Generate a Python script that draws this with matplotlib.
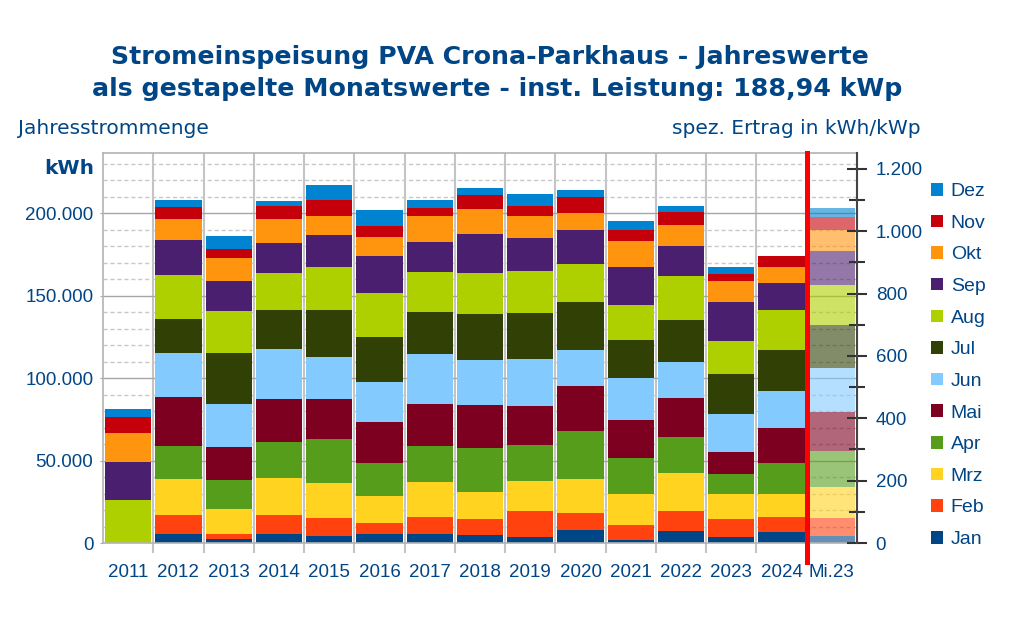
import matplotlib
matplotlib.use("Agg")
import matplotlib.pyplot as plt
from matplotlib.ticker import FuncFormatter, MultipleLocator
import numpy as np

plt.rcParams['font.family'] = ['Liberation Sans', 'DejaVu Sans']

# Kategorien (Jahre + Mittelwert)
jahre = ['2011', '2012', '2013', '2014', '2015', '2016', '2017', '2018',
         '2019', '2020', '2021', '2022', '2023', '2024', 'Mi.23']

# Monatswerte in kWh
jan = [0, 5500, 2400, 5600, 4000, 5200, 5200, 4600, 3400, 7700, 1600, 7300, 3600, 6400, 4400]
feb = [0, 11700, 3000, 11100, 11300, 7100, 10700, 9900, 15800, 10700, 9500, 11900, 11100, 9100, 10500]
mrz = [0, 21600, 15200, 22800, 21200, 16200, 20800, 16400, 18600, 20400, 18400, 23000, 15000, 14300, 19200]
apr = [0, 19800, 17300, 22000, 26700, 20200, 21800, 26400, 21400, 29300, 22000, 21800, 12100, 18400, 21800]
mai = [0, 30100, 20400, 25900, 24200, 24800, 25900, 26300, 23900, 26900, 22800, 23900, 13500, 21800, 23800]
jun = [0, 26200, 25900, 30100, 25300, 24200, 30300, 27300, 28500, 22000, 25500, 22000, 22600, 22400, 26100]
jul = [0, 21000, 31100, 23800, 28500, 27300, 25200, 28100, 28100, 29300, 23400, 25100, 24800, 24500, 26100]
aug = [26100, 26700, 25500, 22600, 26100, 26700, 24200, 24800, 25200, 23000, 20800, 26900, 20000, 24600, 24500]
sep = [22800, 21200, 18000, 18200, 19200, 22000, 18400, 23200, 20200, 20600, 23000, 18000, 23300, 16000, 20400]
okt = [17600, 12800, 13700, 14100, 11900, 11900, 15600, 15600, 13000, 10300, 16200, 13100, 12900, 9700, 13100]
nov = [10100, 6800, 5500, 8300, 9500, 6700, 4800, 8300, 6200, 9700, 6300, 7500, 4200, 6500, 7500]
dez = [4500, 4600, 7900, 3000, 9100, 9300, 4800, 4400, 7300, 4100, 5700, 4000, 4000, 0, 5500]

monate = ['Jan', 'Feb', 'Mrz', 'Apr', 'Mai', 'Jun', 'Jul', 'Aug', 'Sep', 'Okt', 'Nov', 'Dez']
werte = [jan, feb, mrz, apr, mai, jun, jul, aug, sep, okt, nov, dez]
farben = ['#004586', '#ff420e', '#ffd320', '#579d1c', '#7e0021', '#83caff',
          '#314004', '#aecf00', '#4b1f6f', '#ff950e', '#c5000b', '#0084d1']

kwp = 188.94
ymax = 236400
textfarbe = '#004586'

fig = plt.figure(figsize=(10.16, 6.2), dpi=100)
ax = fig.add_axes([103/1016, 1-543/620, (857-103)/1016, (543-153)/620])

x = np.arange(len(jahre))
unten = np.zeros(len(jahre))
handles = []
for name, v, c in zip(monate, werte, farben):
    v = np.array(v, dtype=float)
    h = ax.bar(x[:-1], v[:-1], 0.92, bottom=unten[:-1], color=c, label=name, zorder=2)
    ax.bar(x[-1], v[-1], 0.92, bottom=unten[-1], color=c, alpha=0.6, zorder=2)
    handles.append(h)
    unten += v

ax.set_xlim(-0.5, len(jahre) - 0.5)
ax.set_ylim(0, ymax)
ax.set_axisbelow(True)

# y-Achse links
ax.yaxis.set_major_locator(MultipleLocator(50000))
ax.yaxis.set_minor_locator(MultipleLocator(10000))
ax.yaxis.set_major_formatter(FuncFormatter(lambda v, p: f"{v:,.0f}".replace(",", ".")))
ax.grid(True, axis='y', which='major', color='#a6a6a6', lw=1)
ax.grid(True, axis='y', which='minor', color='#c8c8c8', lw=1, linestyle=(0, (3, 2)))
ax.tick_params(axis='y', which='major', length=2, color='#a6a6a6', pad=5,
               labelsize=13.5, labelcolor=textfarbe)
ax.tick_params(axis='y', which='minor', length=0)

# x-Achse
ax.set_xticks(x)
ax.set_xticklabels(jahre)
ax.set_xticks(x[:-1] + 0.5, minor=True)
ax.grid(True, axis='x', which='minor', color='#c4c4c4', lw=1.5)
ax.tick_params(axis='x', which='major', length=0, pad=15, labelsize=13.5, labelcolor=textfarbe)
ax.tick_params(axis='x', which='minor', length=7, width=1.5, color='#c4c4c4')

for s in ['left', 'top', 'bottom']:
    ax.spines[s].set_color('#b3b3b3')
    ax.spines[s].set_linewidth(1.2)
ax.spines['right'].set_visible(False)

# y-Achse rechts: spezifischer Ertrag
ax2 = ax.twinx()
ax2.set_ylim(0, ymax / kwp)
ax2.yaxis.set_major_locator(MultipleLocator(200))
ax2.yaxis.set_minor_locator(MultipleLocator(100))
ax2.yaxis.set_major_formatter(FuncFormatter(lambda v, p: f"{v:,.0f}".replace(",", ".")))
ax2.tick_params(axis='y', which='major', direction='inout', length=15, width=1.5,
                color='#333333', pad=6, labelsize=13.5, labelcolor=textfarbe)
ax2.tick_params(axis='y', which='minor', direction='inout', length=11, width=1.5, color='#333333')
for s in ['left', 'top', 'bottom']:
    ax2.spines[s].set_visible(False)
ax2.spines['right'].set_color('#444444')
ax2.spines['right'].set_linewidth(1.5)

# rote Trennlinie vor dem Mittelwert
ax.axvline(len(jahre) - 1.5, ymin=-0.048, ymax=1, color='red', lw=3.6, clip_on=False, zorder=5)

leg = ax.legend(handles[::-1], monate[::-1], loc='upper left',
                bbox_to_anchor=(931/1016, 1-183/620), bbox_transform=fig.transFigure,
                frameon=False, fontsize=14, handlelength=0.62, handleheight=0.62,
                handletextpad=0.4, labelspacing=0.745, borderaxespad=0, borderpad=0)
for t in leg.get_texts():
    t.set_color(textfarbe)

fig.text(490/1016, 1-57/620, 'Stromeinspeisung PVA Crona-Parkhaus - Jahreswerte',
         ha='center', va='center', fontsize=18.2, fontweight='bold', color=textfarbe,
         family='DejaVu Sans')
fig.text(497/1016, 1-89/620, 'als gestapelte Monatswerte - inst. Leistung: 188,94 kWp',
         ha='center', va='center', fontsize=18.2, fontweight='bold', color=textfarbe,
         family='DejaVu Sans')
fig.text(18/1016, 1-128/620, 'Jahresstrommenge', ha='left', va='center',
         fontsize=14.5, color=textfarbe, family='DejaVu Sans')
fig.text(921/1016, 1-128/620, 'spez. Ertrag in kWh/kWp', ha='right', va='center',
         fontsize=14.5, color=textfarbe, family='DejaVu Sans')
fig.text(94/1016, 1-168/620, 'kWh', ha='right', va='center', fontsize=14.5,
         fontweight='bold', color=textfarbe, family='DejaVu Sans')

fig.savefig('out.png', dpi=100)
